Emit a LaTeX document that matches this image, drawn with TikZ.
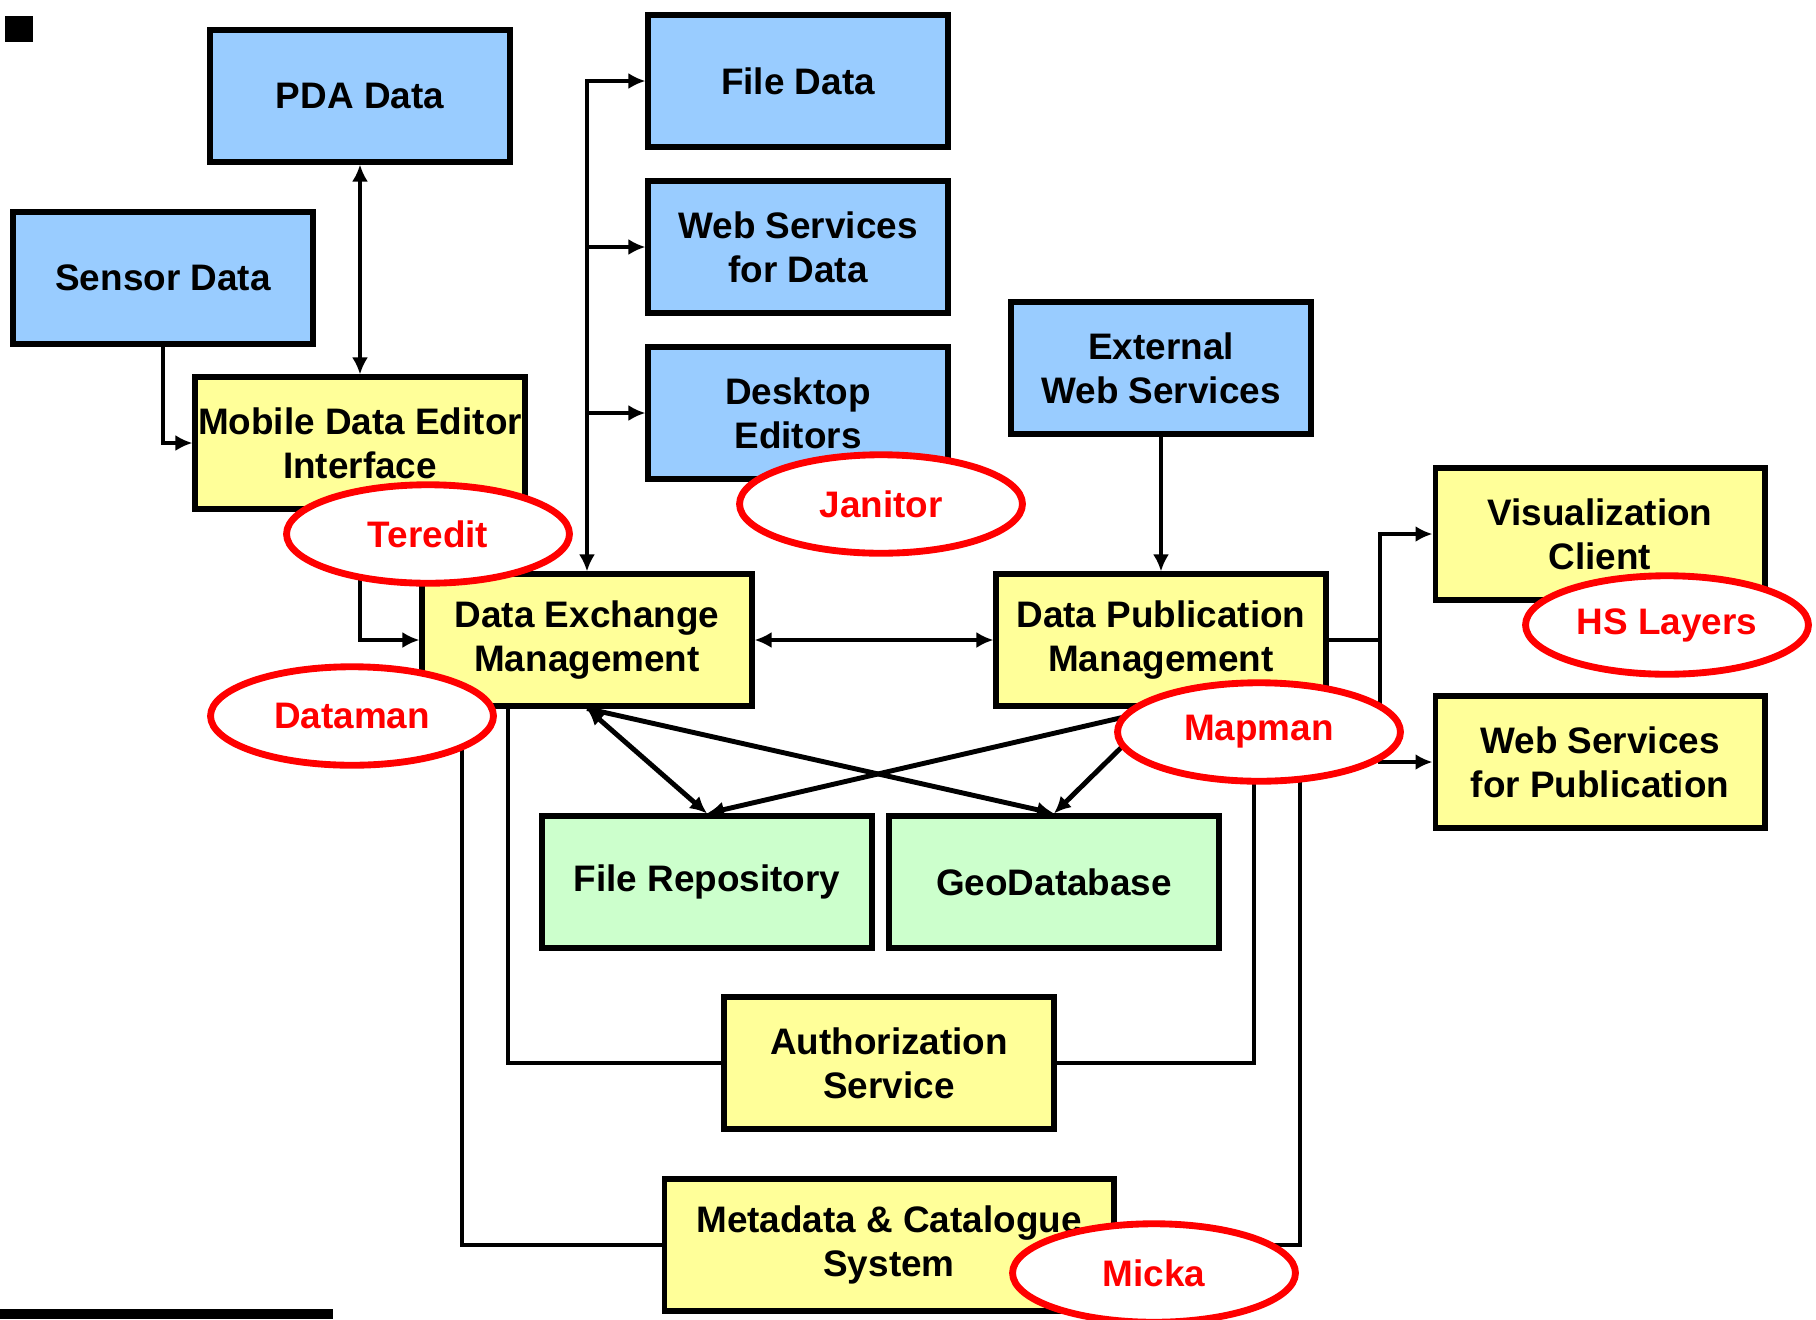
\documentclass[tikz,border=0pt]{standalone}
\usepackage{fontspec}
\setmainfont{Liberation Sans}
\usepackage{tikz}
\usetikzlibrary{arrows.meta,shapes.geometric}
\definecolor{blueb}{HTML}{99CCFF}
\definecolor{yellowb}{HTML}{FFFF99}
\definecolor{greenb}{HTML}{CCFFCC}
\tikzset{
  >= {Latex[length=3.4mm,width=3.2mm]},
  bx/.style={rectangle, draw, line width=2.9pt, minimum width=6cm, minimum height=2.64cm, align=center, inner sep=0pt, font=\bfseries\fontsize{21}{25}\selectfont},
  bl/.style={bx, fill=blueb},
  ye/.style={bx, fill=yellowb, minimum width=6.6cm},
  gr/.style={bx, fill=greenb, minimum width=6.6cm},
  ta/.style={ellipse, draw=red, fill=white, line width=3.9pt, minimum width=5.66cm, minimum height=1.97cm, inner sep=0pt, text=red, font=\bfseries\fontsize{21}{25}\selectfont},
  ln/.style={line width=2.8pt}
}
\begin{document}
\begin{tikzpicture}[x=0.02cm, y=-0.02cm]
  \useasboundingbox (0,0) rectangle (1816,1319);
  \fill (5,16) rectangle (33,42);
  \fill (0,1309) rectangle (333,1319);

  \node[bl] (pda) at (360,96) {PDA Data};
  \node[bl] (sen) at (163,278) {Sensor Data};
  \node[ye] (mob) at (360,443) {Mobile Data Editor\\Interface};
  \node[bl] (fd) at (798,81) {File Data};
  \node[bl] (wsd) at (798,247) {Web Services\\for Data};
  \node[bl] (dsk) at (798,413) {Desktop\\Editors};
  \node[bl] (ews) at (1161,368) {External\\Web Services};
  \node[ye] (dem) at (587,640) {Data Exchange\\Management};
  \node[ye] (dpm) at (1161,640) {Data Publication\\Management};
  \node[ye] (vis) at (1600,534) {Visualization\\Client};
  \node[ye] (wsp) at (1600,762) {Web Services\\for Publication};
  \node[gr] (frp) at (707,882) {File Repository};
  \node[gr] (gdb) at (1054,882) {GeoDatabase};
  \node[ye] (aut) at (889,1063) {Authorization\\Service};
  \node[ye, minimum width=9cm] (met) at (889,1245) {Metadata \& Catalogue\\System};

  \draw[ln,<->] (pda) -- (mob);
  \draw[ln,->] (sen) |- (mob);
  \draw[ln,->] (mob) |- (dem);
  \draw[ln,<->] (fd) -| (dem);
  \draw[ln,->] (dem.north |- wsd) -- (wsd);
  \draw[ln,->] (dem.north |- dsk) -- (dsk);
  \draw[ln,<->] (dem) -- (dpm);
  \draw[ln,->] (ews) -- (dpm);
  \coordinate (pub) at (1380,640);
  \draw[ln] (dpm) -- (pub);
  \draw[ln,->] (pub) |- (vis);
  \draw[ln,->] (pub) |- (wsp);
  \draw[ln,<->] (dem.south) -- (frp.north);
  \draw[ln,->] (dem.south) -- (gdb.north);
  \draw[ln,->] (dpm.south) -- (frp.north);
  \draw[ln,->] (dpm.south) -- (gdb.north);
  \draw[ln] ([xshift=-1.58cm]dem.south) |- (aut);
  \draw[ln] (aut) -| ([xshift=1.86cm]dpm.south);
  \draw[ln] ([xshift=-2.5cm]dem.south) |- (met);
  \draw[ln] (met) -| ([xshift=2.78cm]dpm.south);

  \node[ta] (ter) at (428,534) {Teredit};
  \node[ta] (jan) at (881,504) {Janitor};
  \node[ta] (dat) at (352,716) {Dataman};
  \node[ta] (hsl) at (1667,625) {HS Layers};
  \node[ta] (map) at (1259,732) {Mapman};
  \node[ta] (mic) at (1154,1273) {Micka};
\end{tikzpicture}
\end{document}
